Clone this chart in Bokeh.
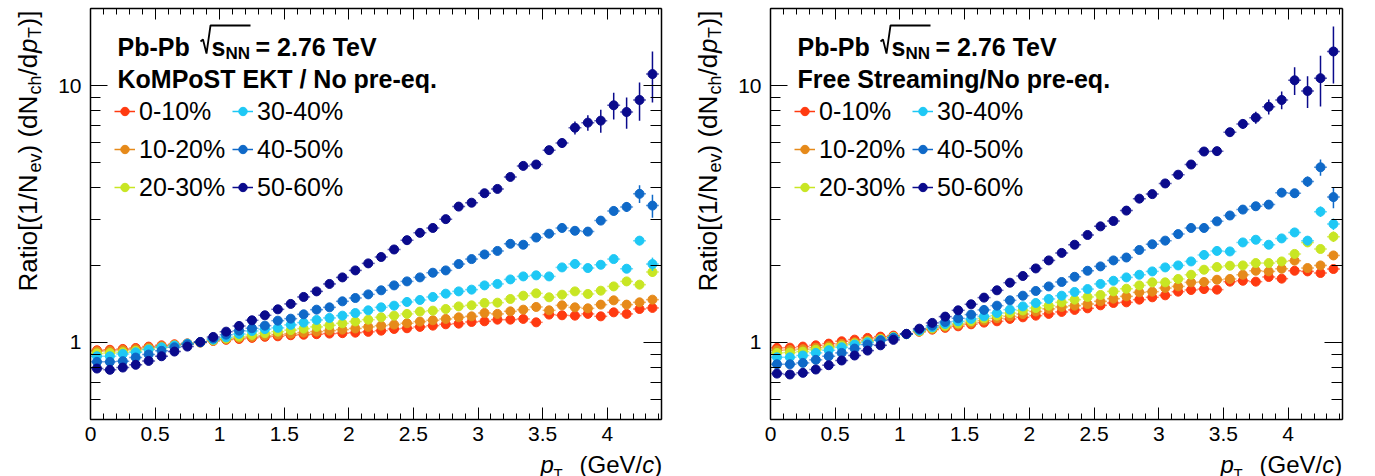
import numpy as np
from math import pi, log10
from bokeh.plotting import figure
from bokeh.models import (FixedTicker, CustomJSTickFormatter, LinearAxis, LogAxis, Label,
                          Legend, LegendItem, PolyAnnotation, Range1d, ColumnDataSource)
from bokeh.layouts import row
from bokeh.embed import file_html
from bokeh.resources import INLINE

# ---------------- data ----------------
pt = [0.05, 0.15, 0.25, 0.35, 0.45, 0.55, 0.65, 0.75, 0.85, 0.95,
      1.05, 1.15, 1.25, 1.35, 1.45, 1.55, 1.65, 1.75, 1.85, 1.95,
      2.05, 2.15, 2.25, 2.35, 2.45, 2.55, 2.65, 2.75, 2.85, 2.95,
      3.05, 3.15, 3.25, 3.35, 3.45, 3.55, 3.65, 3.75, 3.85, 3.95,
      4.05, 4.15, 4.25, 4.35]
pt_err = pt[25:]  # bins where the vertical error bars are visible
bin_half_width = 0.05

centralities = ["0-10%", "10-20%", "20-30%", "30-40%", "40-50%", "50-60%"]
colors = ["#FF3A10", "#E68A1A", "#C8E623", "#1EC8F5", "#0F69C8", "#0A0A8C"]

# KoMPoST EKT / No pre-eq.
kom_0_10 = [0.931, 0.935, 0.942, 0.950, 0.962, 0.973, 0.982, 0.990, 0.998, 1.012,
            1.022, 1.030, 1.040, 1.050, 1.055, 1.065, 1.070, 1.075, 1.081, 1.085,
            1.090, 1.098, 1.110, 1.127, 1.134, 1.148, 1.161, 1.175, 1.182, 1.200,
            1.207, 1.225, 1.225, 1.233, 1.196, 1.282, 1.274, 1.270, 1.290, 1.262,
            1.308, 1.290, 1.348, 1.361]
kom_10_20 = [0.922, 0.925, 0.932, 0.940, 0.953, 0.966, 0.978, 0.988, 0.998, 1.015,
             1.028, 1.040, 1.050, 1.062, 1.072, 1.080, 1.090, 1.100, 1.110, 1.120,
             1.132, 1.148, 1.161, 1.172, 1.186, 1.204, 1.218, 1.233, 1.251, 1.262,
             1.301, 1.290, 1.320, 1.340, 1.373, 1.332, 1.393, 1.368, 1.356, 1.402,
             1.457, 1.402, 1.431, 1.466]
kom_20_30 = [0.905, 0.908, 0.915, 0.925, 0.940, 0.955, 0.972, 0.986, 1.000, 1.018,
             1.035, 1.052, 1.068, 1.085, 1.100, 1.115, 1.130, 1.148, 1.165, 1.185,
             1.205, 1.225, 1.251, 1.270, 1.290, 1.317, 1.328, 1.348, 1.380, 1.393,
             1.423, 1.427, 1.475, 1.519, 1.551, 1.497, 1.533, 1.579, 1.543, 1.589,
             1.651, 1.727, 1.677, 1.879]
kom_30_40 = [0.882, 0.882, 0.901, 0.914, 0.937, 0.956, 0.971, 0.988, 1.000, 1.024,
             1.046, 1.078, 1.107, 1.125, 1.138, 1.169, 1.193, 1.222, 1.244, 1.270,
             1.300, 1.332, 1.368, 1.389, 1.436, 1.462, 1.502, 1.547, 1.579, 1.604,
             1.666, 1.688, 1.758, 1.806, 1.823, 1.806, 1.958, 2.020, 1.947, 2.005,
             2.110, 1.935, 2.490, 2.018]
kom_40_50 = [0.839, 0.839, 0.844, 0.872, 0.896, 0.926, 0.956, 0.982, 1.000, 1.034,
             1.071, 1.110, 1.134, 1.161, 1.214, 1.236, 1.285, 1.340, 1.368, 1.444,
             1.488, 1.537, 1.594, 1.666, 1.727, 1.790, 1.867, 1.906, 2.018, 2.110,
             2.200, 2.270, 2.420, 2.400, 2.560, 2.650, 2.790, 2.720, 2.700, 2.980,
             3.250, 3.370, 3.790, 3.410]
kom_50_60 = [0.790, 0.781, 0.797, 0.817, 0.846, 0.882, 0.920, 0.962, 1.003, 1.049,
             1.100, 1.158, 1.218, 1.274, 1.344, 1.411, 1.502, 1.579, 1.688, 1.790,
             1.906, 2.030, 2.150, 2.300, 2.500, 2.670, 2.790, 3.020, 3.380, 3.500,
             3.810, 3.960, 4.410, 4.870, 4.930, 5.610, 5.980, 6.860, 7.180, 7.310,
             8.390, 7.900, 8.800, 11.10]

kom_err_0_10 = [0.01, 0.01, 0.01, 0.01, 0.01, 0.01, 0.01, 0.01, 0.015, 0.015,
                0.02, 0.02, 0.02, 0.02, 0.025, 0.025, 0.03, 0.03, 0.035]
kom_err_10_20 = [0.01, 0.01, 0.01, 0.01, 0.01, 0.01, 0.01, 0.015, 0.015, 0.015,
                 0.02, 0.02, 0.02, 0.025, 0.025, 0.03, 0.03, 0.035, 0.04]
kom_err_20_30 = [0.01, 0.01, 0.01, 0.01, 0.015, 0.015, 0.015, 0.015, 0.02, 0.02,
                 0.02, 0.025, 0.025, 0.03, 0.03, 0.035, 0.04, 0.045, 0.08]
kom_err_30_40 = [0.015, 0.015, 0.015, 0.015, 0.02, 0.02, 0.02, 0.02, 0.025, 0.025,
                 0.03, 0.03, 0.035, 0.04, 0.045, 0.05, 0.06, 0.10, 0.12]
kom_err_40_50 = [0.02, 0.02, 0.025, 0.025, 0.03, 0.03, 0.035, 0.04, 0.045, 0.05,
                 0.06, 0.07, 0.08, 0.09, 0.10, 0.13, 0.15, 0.30, 0.35]
kom_err_50_60 = [0.05, 0.05, 0.06, 0.07, 0.08, 0.09, 0.10, 0.12, 0.14, 0.16,
                 0.20, 0.25, 0.40, 0.50, 0.75, 1.00, 1.10, 1.50, 2.50]

# Free Streaming / No pre-eq.
fs_0_10 = [0.951, 0.953, 0.962, 0.973, 0.988, 1.009, 1.024, 1.040, 1.052, 1.062,
           1.078, 1.100, 1.120, 1.138, 1.154, 1.175, 1.193, 1.207, 1.233, 1.251,
           1.270, 1.290, 1.313, 1.337, 1.356, 1.393, 1.423, 1.431, 1.466, 1.497,
           1.524, 1.575, 1.599, 1.612, 1.604, 1.723, 1.737, 1.723, 1.797, 1.770,
           1.900, 1.889, 1.862, 1.930]
fs_10_20 = [0.931, 0.933, 0.940, 0.952, 0.966, 0.985, 1.000, 1.018, 1.035, 1.050,
            1.075, 1.100, 1.125, 1.150, 1.170, 1.190, 1.215, 1.240, 1.262, 1.288,
            1.318, 1.350, 1.373, 1.389, 1.410, 1.444, 1.479, 1.510, 1.565, 1.575,
            1.627, 1.651, 1.712, 1.718, 1.753, 1.765, 1.833, 1.900, 1.889, 1.935,
            2.080, 1.947, 1.993, 2.180]
fs_20_30 = [0.909, 0.912, 0.920, 0.935, 0.952, 0.970, 0.990, 1.008, 1.030, 1.050,
            1.075, 1.105, 1.135, 1.160, 1.185, 1.210, 1.240, 1.270, 1.300, 1.330,
            1.360, 1.389, 1.431, 1.466, 1.502, 1.529, 1.579, 1.617, 1.666, 1.712,
            1.712, 1.765, 1.833, 1.918, 1.965, 1.988, 1.993, 2.036, 2.036, 2.066,
            2.210, 2.450, 2.310, 2.580]
fs_30_40 = [0.874, 0.874, 0.888, 0.909, 0.931, 0.956, 0.980, 1.000, 1.020, 1.045,
            1.075, 1.110, 1.144, 1.179, 1.207, 1.233, 1.262, 1.301, 1.340, 1.380,
            1.423, 1.475, 1.519, 1.571, 1.612, 1.688, 1.737, 1.790, 1.833, 1.889,
            1.958, 1.993, 2.066, 2.190, 2.270, 2.260, 2.450, 2.510, 2.400, 2.540,
            2.680, 2.490, 3.230, 2.890]
fs_40_50 = [0.821, 0.821, 0.831, 0.854, 0.882, 0.909, 0.945, 0.980, 1.018, 1.040,
            1.078, 1.120, 1.161, 1.200, 1.240, 1.282, 1.337, 1.389, 1.457, 1.519,
            1.585, 1.651, 1.718, 1.800, 1.900, 1.976, 2.085, 2.140, 2.290, 2.410,
            2.490, 2.640, 2.790, 2.790, 2.960, 3.120, 3.290, 3.390, 3.440, 3.830,
            3.810, 4.230, 4.810, 3.680]
fs_50_60 = [0.755, 0.749, 0.760, 0.783, 0.814, 0.849, 0.888, 0.928, 0.973, 1.022,
            1.078, 1.130, 1.190, 1.259, 1.332, 1.406, 1.493, 1.594, 1.707, 1.813,
            1.940, 2.085, 2.230, 2.400, 2.620, 2.830, 2.970, 3.260, 3.630, 3.780,
            4.160, 4.500, 4.930, 5.540, 5.560, 6.590, 7.100, 7.510, 8.280, 8.800,
            10.50, 9.540, 10.70, 13.60]

fs_err_0_10 = [0.01, 0.01, 0.01, 0.01, 0.015, 0.015, 0.015, 0.015, 0.02, 0.02,
               0.02, 0.025, 0.025, 0.03, 0.03, 0.035, 0.04, 0.045, 0.05]
fs_err_10_20 = [0.01, 0.01, 0.01, 0.015, 0.015, 0.015, 0.015, 0.02, 0.02, 0.02,
                0.025, 0.025, 0.03, 0.03, 0.035, 0.04, 0.045, 0.05, 0.06]
fs_err_20_30 = [0.015, 0.015, 0.015, 0.015, 0.02, 0.02, 0.02, 0.025, 0.025, 0.03,
                0.03, 0.035, 0.035, 0.04, 0.045, 0.05, 0.10, 0.08, 0.12]
fs_err_30_40 = [0.02, 0.02, 0.02, 0.02, 0.025, 0.025, 0.03, 0.03, 0.035, 0.04,
                0.04, 0.05, 0.05, 0.06, 0.06, 0.08, 0.10, 0.15, 0.15]
fs_err_40_50 = [0.03, 0.03, 0.035, 0.04, 0.045, 0.05, 0.055, 0.06, 0.07, 0.08,
                0.09, 0.10, 0.12, 0.13, 0.15, 0.15, 0.20, 0.35, 0.35]
fs_err_50_60 = [0.05, 0.06, 0.07, 0.08, 0.09, 0.10, 0.12, 0.14, 0.17, 0.20,
                0.25, 0.30, 0.40, 0.55, 0.70, 1.30, 1.35, 2.40, 3.40]

x_lim = (0, 4.42)
y_lim = (0.5, 20)
x_major = [0, 0.5, 1, 1.5, 2, 2.5, 3, 3.5, 4]
y_major = [1, 10]
y_minor = [0.5, 0.6, 0.7, 0.8, 0.9, 2, 3, 4, 5, 6, 7, 8, 9, 20]

# ---------------- layout / styling ----------------
FONT = "Liberation Sans"
H = 476              # canvas height
FRAME_LEFT = 90      # px, left edge of the data frame inside each panel
FRAME_TOP = 8
FRAME_BOTTOM = 419
x_minor = [round(0.1 * i, 2) for i in range(45)]


def img_to_screen(x, y):
    return x, H - y


def add_text(p, text, x, y, size, style="normal", angle=0.0, font=FONT):
    sx, sy = img_to_screen(x, y)
    p.add_layout(Label(x=sx, y=sy, x_units="screen", y_units="screen", text=text,
                       text_font=font, text_font_size=f"{size}px", text_font_style=style,
                       text_color="black", text_align="left", text_baseline="alphabetic",
                       angle=angle))


def style_axis(ax, tick_in, minor_in, standoff=0):
    ax.major_tick_in, ax.major_tick_out = tick_in, 0
    ax.minor_tick_in, ax.minor_tick_out = minor_in, 0
    ax.axis_line_width = 1.5
    ax.axis_line_color = "black"
    ax.major_tick_line_color = "black"
    ax.minor_tick_line_color = "black"
    ax.major_label_text_color = "black"
    ax.major_label_text_font = FONT
    ax.major_label_text_font_size = "21px"
    ax.major_label_standoff = standoff
    ax.axis_label = None


def make_panel(series, errors, subtitle, width, frame_w):
    # the whole canvas is the plotting frame; the data frame is drawn by
    # fixed-location axes at the limits of the data ranges
    ppu = frame_w / (x_lim[1] - x_lim[0])
    xr = Range1d(x_lim[0] - FRAME_LEFT / ppu, x_lim[1] + (width - FRAME_LEFT - frame_w) / ppu)
    lpp = log10(y_lim[1] / y_lim[0]) / (FRAME_BOTTOM - FRAME_TOP)
    yr = Range1d(y_lim[0] / 10 ** ((H - FRAME_BOTTOM) * lpp), y_lim[1] * 10 ** (FRAME_TOP * lpp))

    p = figure(width=width, height=H, frame_width=width, frame_height=H,
               min_border=0, y_axis_type="log", x_range=xr, y_range=yr,
               output_backend="svg", toolbar_location=None)
    p.grid.visible = False
    p.outline_line_color = None
    p.background_fill_color = "white"
    p.border_fill_color = "white"

    xt = FixedTicker(ticks=x_major, minor_ticks=x_minor)
    yt = FixedTicker(ticks=y_major, minor_ticks=y_minor)
    fmt = CustomJSTickFormatter(code="return String(tick)")
    blank = CustomJSTickFormatter(code="return ''")

    xa = p.xaxis[0]
    xa.ticker, xa.formatter = xt, fmt
    xa.fixed_location, xa.bounds = y_lim[0], x_lim
    style_axis(xa, 12, 6, standoff=7)
    ya = p.yaxis[0]
    ya.ticker, ya.formatter = yt, fmt
    ya.fixed_location, ya.bounds = x_lim[0], y_lim
    style_axis(ya, 17, 10, standoff=9)

    top = LinearAxis(ticker=xt, formatter=blank, fixed_location=y_lim[1], bounds=x_lim)
    style_axis(top, 11, 6)
    right = LogAxis(ticker=yt, formatter=blank, fixed_location=x_lim[1], bounds=y_lim)
    style_axis(right, 18, 11)
    p.add_layout(top, "above")
    p.add_layout(right, "right")

    items = []
    for name, col, vals, err in zip(centralities, colors, series, errors):
        x = np.array(pt)
        y = np.array(vals)
        src = ColumnDataSource(dict(x=x, y=y, x0=x - bin_half_width, x1=x + bin_half_width))
        p.segment(x0="x0", x1="x1", y0="y", y1="y", source=src,
                  line_color=col, line_width=1.5, line_alpha=0.65)
        xe = np.array(pt_err)
        ye = y[len(pt) - len(pt_err):]
        e = np.array(err)
        esrc = ColumnDataSource(dict(x=xe, lo=ye - e, hi=ye + e))
        eb = p.segment(x0="x", x1="x", y0="lo", y1="hi", source=esrc,
                       line_color=col, line_width=1.5)
        sc = p.scatter(x="x", y="y", source=src, size=9, marker="circle",
                       fill_color=col, line_color=col)
        items.append(LegendItem(label=name, renderers=[eb, sc]))

    for k, vx in enumerate([114, 232]):
        leg = Legend(items=items[3 * k:3 * k + 3], location=(vx, H - 206),
                     orientation="vertical", glyph_width=21, glyph_height=38,
                     label_height=38, spacing=0, label_standoff=4, padding=0, margin=0,
                     label_text_font=FONT, label_text_font_size="25px",
                     label_text_color="black",
                     border_line_color=None, background_fill_alpha=0)
        p.add_layout(leg, "center")

    # header text:  Pb-Pb  sqrt(s_NN) = 2.76 TeV
    add_text(p, "Pb-Pb", 117, 46, 25, "bold")
    rad_x = [200, 202.5, 206, 210, 250, 210, 206, 202.5]
    rad_y = [41, 39, 53, 25, 25, 25, 53, 39]
    p.add_layout(PolyAnnotation(xs=rad_x, ys=[H - v for v in rad_y],
                                xs_units="screen", ys_units="screen",
                                fill_alpha=0, line_color="black", line_alpha=1,
                                line_width=1.8))
    add_text(p, "s", 211, 46, 25, "bold")
    add_text(p, "NN", 225, 53, 17, "bold")
    add_text(p, "= 2.76 TeV", 255, 46, 25, "bold")
    add_text(p, subtitle, 117, 78, 25, "bold")

    # x-axis title  p_T (GeV/c)
    add_text(p, "p", 540, 464, 24, "italic")
    add_text(p, "T", 553, 473, 15)
    add_text(p, "(GeV/", 579, 464, 24)
    add_text(p, "c", 641.7, 464, 24, "italic")
    add_text(p, ")", 653.7, 464, 24)

    # y-axis title  Ratio[(1/N_ev) (dN_ch/dp_T)]  (reads bottom to top)
    a = pi / 2
    add_text(p, "Ratio[(1/N", 27, 291, 26, angle=a)
    add_text(p, "ev", 34, 172, 18, angle=a)
    add_text(p, ") (dN", 27, 153, 26, angle=a)
    add_text(p, "ch", 34, 94, 18, angle=a)
    add_text(p, "/d", 27, 75, 26, angle=a)
    add_text(p, "p", 27, 52.5, 26, "italic", angle=a)
    add_text(p, "T", 34, 37.5, 18, angle=a)
    add_text(p, ")]", 27, 26, 26, angle=a)
    return p


p1 = make_panel([kom_0_10, kom_10_20, kom_20_30, kom_30_40, kom_40_50, kom_50_60],
                [kom_err_0_10, kom_err_10_20, kom_err_20_30, kom_err_30_40, kom_err_40_50, kom_err_50_60],
                "KoMPoST EKT / No pre-eq.", 680, 571)
p2 = make_panel([fs_0_10, fs_10_20, fs_20_30, fs_30_40, fs_40_50, fs_50_60],
                [fs_err_0_10, fs_err_10_20, fs_err_20_30, fs_err_30_40, fs_err_40_50, fs_err_50_60],
                "Free Streaming/No pre-eq.", 695, 572)

layout = row(p1, p2, spacing=0)
open("out.html", "w").write(file_html(layout, INLINE))
